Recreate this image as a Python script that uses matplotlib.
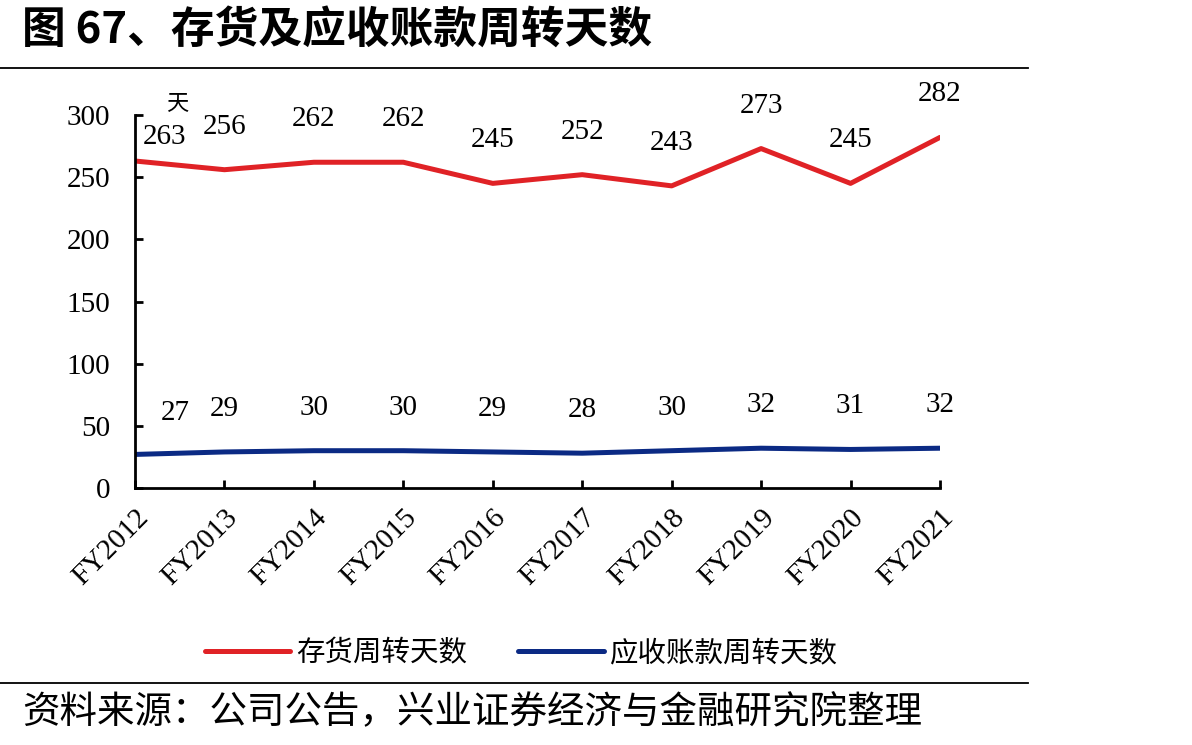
import matplotlib
matplotlib.use("Agg")
import matplotlib.pyplot as plt
from matplotlib.transforms import ScaledTranslation

years = ["FY2012", "FY2013", "FY2014", "FY2015", "FY2016",
         "FY2017", "FY2018", "FY2019", "FY2020", "FY2021"]
inventory_days = [263, 256, 262, 262, 245, 252, 243, 273, 245, 282]
receivable_days = [27, 29, 30, 30, 29, 28, 30, 32, 31, 32]
y_ticks = [0, 50, 100, 150, 200, 250, 300]

serif = ["Liberation Serif", "Noto Sans CJK SC"]
cjk = ["Noto Sans CJK SC", "DejaVu Sans"]
red = "#E02226"
blue = "#0B2A84"

fig = plt.figure(figsize=(11.92, 7.45), dpi=100)
ax = fig.add_axes([135 / 1192, 1 - 488 / 745, 805 / 1192, 373 / 745])

x = list(range(len(years)))
l1, = ax.plot(x, inventory_days, color=red, lw=3.6, solid_capstyle="round")
l2, = ax.plot(x, receivable_days, color=blue, lw=3.6, solid_capstyle="round")

# label offsets in points, first label shifted like the original
for i, v in enumerate(inventory_days):
    off = (21, 17) if i == 0 else (0, 31)
    ax.annotate(str(v), (i, v), xytext=off, textcoords="offset points",
                ha="center", va="center", fontsize=21, family=serif)
for i, v in enumerate(receivable_days):
    off = (29, 30) if i == 0 else (0, 31)
    ax.annotate(str(v), (i, v), xytext=off, textcoords="offset points",
                ha="center", va="center", fontsize=21, family=serif)

ax.set_xlim(0, len(years) - 1)
ax.set_ylim(0, 300)
ax.set_yticks(y_ticks)
ax.set_yticklabels([str(t) for t in y_ticks], family=serif, fontsize=21)
ax.set_xticks(x)
ax.set_xticklabels(years, family=serif, fontsize=21, rotation=45,
                   ha="right", rotation_mode="anchor")
shift = ScaledTranslation(-7 / 72, 0, fig.dpi_scale_trans)
for lab in ax.get_xticklabels():
    lab.set_transform(lab.get_transform() + shift)
for s in ["top", "right"]:
    ax.spines[s].set_visible(False)
for s in ["left", "bottom"]:
    ax.spines[s].set_linewidth(2.0)
ax.tick_params(axis="both", direction="in", length=6, width=2.0)
ax.tick_params(axis="y", pad=18)
ax.tick_params(axis="x", pad=12)

fig.text(177 / 1192, 1 - 103 / 745, "天", fontsize=16, family=cjk,
         ha="center", va="center")

fig.text(22 / 1192, 1 - 30 / 745, "图 67、存货及应收账款周转天数", fontsize=31.5,
         family=cjk, weight="bold", ha="left", va="center")
fig.add_artist(plt.Line2D([0, 1028 / 1192], [1 - 68 / 745] * 2, color="black", lw=1.3))
fig.add_artist(plt.Line2D([0, 1028 / 1192], [1 - 683 / 745] * 2, color="black", lw=1.3))
fig.text(22 / 1192, 1 - 713 / 745, "资料来源：公司公告，兴业证券经济与金融研究院整理",
         fontsize=27, family=cjk, ha="left", va="center")

fig.legend([l1, l2], ["存货周转天数", "应收账款周转天数"], loc="center",
           bbox_to_anchor=(521 / 1192, 1 - 653 / 745), ncol=2, frameon=False,
           prop={"family": cjk, "size": 20.5}, handlelength=3.0,
           handletextpad=0.2, columnspacing=1.8)

fig.savefig("out.png", dpi=100)
